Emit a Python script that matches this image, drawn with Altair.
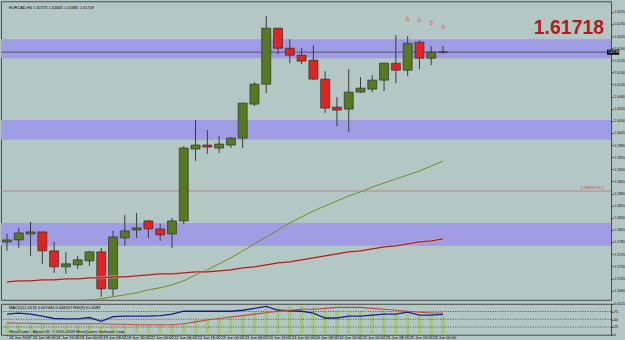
import altair as alt
import pandas as pd

FONT = "Liberation Sans"
BG = "#B3C8C4"
BAND = "#A09CE4"
GREEN = "#557A22"
RED = "#E02424"

# ---------------- data ----------------
idx = list(range(38))
opens = [1.57802, 1.57843, 1.57967, 1.58008, 1.57617, 1.57287, 1.57328, 1.57411, 1.57596, 1.56833,
         1.57885, 1.58049, 1.58235, 1.58070, 1.57967, 1.58235, 1.59719, 1.59801, 1.59739, 1.59801,
         1.59946, 1.60646, 1.61058, 1.62213, 1.61800, 1.61656, 1.61553, 1.61162, 1.60584, 1.60543,
         1.60894, 1.60955, 1.61141, 1.61491, 1.61347, 1.61924, 1.61594, 1.61725]
highs = [1.57967, 1.58091, 1.58214, 1.58008, 1.57802, 1.57596, 1.57514, 1.57617, 1.57678, 1.58029,
         1.58359, 1.58400, 1.58255, 1.58173, 1.58297, 1.59781, 1.60317, 1.60110, 1.59987, 1.59966,
         1.60667, 1.61100, 1.62460, 1.62213, 1.61986, 1.61800, 1.61862, 1.61326, 1.60791, 1.61368,
         1.61203, 1.61244, 1.61491, 1.62068, 1.62048, 1.61965, 1.61842, 1.61845]
lows = [1.57617, 1.57678, 1.57514, 1.57349, 1.57163, 1.57143, 1.57246, 1.57307, 1.56669, 1.56689,
        1.57720, 1.57885, 1.57885, 1.57823, 1.57678, 1.58173, 1.59472, 1.59616, 1.59636, 1.59739,
        1.59739, 1.60605, 1.60873, 1.61677, 1.61491, 1.61471, 1.61141, 1.60461, 1.60193, 1.60069,
        1.60873, 1.60894, 1.60914, 1.61079, 1.61223, 1.61368, 1.61450, 1.61690]
closes = [1.57843, 1.57988, 1.58008, 1.57617, 1.57287, 1.57349, 1.57431, 1.57596, 1.56833, 1.57905,
          1.58029, 1.58091, 1.58070, 1.57946, 1.58235, 1.59739, 1.59801, 1.59760, 1.59822, 1.59946,
          1.60667, 1.61058, 1.62213, 1.61800, 1.61656, 1.61533, 1.61162, 1.60564, 1.60523, 1.60894,
          1.60976, 1.61141, 1.61491, 1.61347, 1.61903, 1.61594, 1.61720, 1.61718]

ma_fast_idx = list(range(5, 38))
ma_fast = [1.56560, 1.56586, 1.56607, 1.56627, 1.56669, 1.56710, 1.56751, 1.56813, 1.56854, 1.56916,
           1.56998, 1.57122, 1.57225, 1.57349, 1.57472, 1.57617, 1.57761, 1.57905, 1.58049, 1.58194,
           1.58317, 1.58441, 1.58544, 1.58647, 1.58750, 1.58833, 1.58936, 1.59018, 1.59101, 1.59183,
           1.59265, 1.59368, 1.59472]
ma_slow = [1.56978, 1.56998, 1.56998, 1.57019, 1.57019, 1.57040, 1.57040, 1.57060, 1.57060, 1.57081,
           1.57081, 1.57101, 1.57122, 1.57143, 1.57143, 1.57163, 1.57184, 1.57184, 1.57204, 1.57225,
           1.57266, 1.57287, 1.57328, 1.57369, 1.57390, 1.57431, 1.57472, 1.57514, 1.57555, 1.57596,
           1.57617, 1.57658, 1.57699, 1.57720, 1.57761, 1.57802, 1.57823, 1.57864]

rsi = [37, 37, 37, 34, 33, 31, 31, 30, 27, 30, 30, 31, 30, 31, 34, 38, 50, 53, 58, 62,
       66, 75, 84, 90, 93, 93, 90, 78, 75, 72, 75, 72, 75, 72, 69, 62, 62, 61]
macd_main = [0.00760, 0.00803, 0.00760, 0.00676, 0.00570, 0.00549, 0.00549, 0.00612, 0.00443, 0.00655,
             0.00676, 0.00676, 0.00676, 0.00697, 0.00760, 0.00887, 0.00887, 0.00887, 0.00887, 0.00887,
             0.00930, 0.01014, 0.01099, 0.00930, 0.00908, 0.00887, 0.00803, 0.00591, 0.00591, 0.00676,
             0.00676, 0.00718, 0.00760, 0.00760, 0.00845, 0.00718, 0.00718, 0.00748]
macd_signal = [0.00380, 0.00359, 0.00359, 0.00337, 0.00337, 0.00337, 0.00337, 0.00337, 0.00337, 0.00316,
               0.00316, 0.00295, 0.00295, 0.00295, 0.00295, 0.00337, 0.00422, 0.00507, 0.00570, 0.00633,
               0.00697, 0.00760, 0.00824, 0.00887, 0.00930, 0.00972, 0.00972, 0.01014, 0.01057, 0.01057,
               0.01057, 0.01014, 0.00972, 0.00930, 0.00887, 0.00845, 0.00811, 0.00811]

band_top = [1.61986, 1.60317, 1.58194]
band_bottom = [1.61594, 1.59910, 1.57720]

bid_price = 1.61718
level_price = 1.58853
level_text = "1.58853  56.2"
header_text = "EURCAD,H4  1.61725 1.61845 1.61690 1.61718"
ind_header = "MACD(12,26,9) 0.007484 0.008107   RSI(9) 61.0089"
footer_text = "MetaTrader - Alpari UK, \u00a9 2001-2009 MetaQuotes Software Corp."
fractal_idx = [34, 35, 36, 37]
fractal_price = [1.62398, 1.62378, 1.62316, 1.62233]

date_labels = ["18 Jun 2009", "18 Jun 08:00", "18 Jun 16:00", "19 Jun 00:00", "19 Jun 08:00",
               "19 Jun 16:00", "22 Jun 00:00", "22 Jun 08:00", "22 Jun 16:00", "23 Jun 00:00",
               "23 Jun 08:00", "23 Jun 16:00", "24 Jun 00:00", "24 Jun 08:00", "24 Jun 16:00",
               "25 Jun 00:00", "25 Jun 08:00", "25 Jun 16:00", "26 Jun 00:00"]
date_pos = list(range(0, 37, 2))
price_ticks = [round(1.5680 + 0.0025 * k, 4) for k in range(24)]
rsi_levels = [25, 50, 75]

# ---------------- frames ----------------
df = pd.DataFrame({"i": idx, "open": opens, "high": highs, "low": lows, "close": closes,
                   "ma_slow": ma_slow, "rsi": rsi, "macd": macd_main, "signal": macd_signal})
df["dir"] = ["up" if c >= o else "down" for o, c in zip(opens, closes)]
fast_df = pd.DataFrame({"i": ma_fast_idx, "ma": ma_fast})
band_df = pd.DataFrame({"top": band_top, "bottom": band_bottom})

XS = alt.Scale(domain=[-1 / 12, 610 / 12], nice=False, zero=False)
YP = alt.Scale(domain=[1.56607, 1.62769], nice=False, zero=False)
YR = alt.Scale(domain=[0, 100], nice=False, zero=False)
YM = alt.Scale(domain=[-0.00141, 0.01213], nice=False, zero=False)
NOX = alt.X("i:Q", scale=XS, axis=None)

PAX = alt.Axis(orient="right", values=price_ticks, format=".4f", title=None,
               labelFontSize=3.6, labelFont=FONT, labelColor="#111111", tickColor="#222222",
               tickSize=2, tickWidth=0.8, labelPadding=0.5, domain=False, grid=False)


def py(field):
    return alt.Y(field, type="quantitative", scale=YP, axis=PAX, title=None)


bands = alt.Chart(band_df).mark_rect(color=BAND).encode(y=py("top"), y2="bottom:Q")

bid_line = alt.Chart(pd.DataFrame({"p": [bid_price]})).mark_rule(color="#55557a", strokeWidth=1).encode(
    y=py("p"))
lvl_line = alt.Chart(pd.DataFrame({"p": [level_price]})).mark_rule(color="#B57C7C", strokeWidth=0.8).encode(
    y=py("p"))
lvl_text = alt.Chart(pd.DataFrame({"i": [50.67], "p": [level_price], "t": [level_text]})).mark_text(
    align="right", baseline="bottom", dy=-0.5, fontSize=4, font=FONT, color="#B05050").encode(
    x=NOX, y=py("p"), text="t:N")

wicks = alt.Chart(df).mark_rule(color="#3a3a3a", strokeWidth=1).encode(
    x=NOX, y=py("low"), y2="high:Q")
bodies = alt.Chart(df).mark_bar(size=9, stroke="#2e2e2e", strokeWidth=0.7).encode(
    x=NOX, y=py("open"), y2="close:Q",
    color=alt.Color("dir:N", scale=alt.Scale(domain=["up", "down"], range=[GREEN, RED]), legend=None))

ma_fast_line = alt.Chart(fast_df).mark_line(color="#6E8B23", strokeWidth=1, clip=True).encode(
    x=NOX, y=py("ma"))
ma_slow_halo = alt.Chart(df).mark_line(color="#E6B4B4", strokeWidth=3, opacity=0.6, clip=True).encode(
    x=NOX, y=py("ma_slow"))
ma_slow_line = alt.Chart(df).mark_line(color="#9E2424", strokeWidth=1.2, clip=True).encode(
    x=NOX, y=py("ma_slow"))

fractals = alt.Chart(pd.DataFrame({"i": fractal_idx, "p": fractal_price})).mark_text(
    text="\u00f0", fontSize=6, font="DejaVu Sans", color="#D06666").encode(x=NOX, y=py("p"))

header = alt.Chart(pd.DataFrame({"i": [0.17], "p": [1.62615], "t": [header_text]})).mark_text(
    align="left", baseline="alphabetic", fontSize=4, font=FONT, color="#000000").encode(
    x=NOX, y=py("p"), text="t:N")
big_price = alt.Chart(pd.DataFrame({"i": [50.67], "p": [1.62089], "t": ["1.61718"]})).mark_text(
    align="right", baseline="alphabetic", fontSize=19.5, fontWeight="bold", font=FONT,
    color="#B01C1C").encode(x=NOX, y=py("p"), text="t:N")
box = alt.Chart(pd.DataFrame({"a": [50.92], "b": [51.95], "p1": [bid_price - 0.00052],
                              "p2": [bid_price + 0.00052]})).mark_rect(color="#000000").encode(
    x=alt.X("a:Q", scale=XS, axis=None), x2="b:Q", y=py("p1"), y2="p2:Q")
box_text = alt.Chart(pd.DataFrame({"i": [51.0], "p": [bid_price], "t": ["1.61718"]})).mark_text(
    align="left", baseline="middle", fontSize=3, font=FONT, color="#FFFFFF").encode(
    x=NOX, y=py("p"), text="t:N")

main = alt.layer(bands, bid_line, lvl_line, lvl_text, wicks, bodies, ma_fast_line, ma_slow_halo,
                 ma_slow_line, fractals, header, big_price, box, box_text).properties(width=611, height=299)

# ---------------- indicator panel ----------------
label_js = "[" + ",".join("'" + s + "'" for s in date_labels) + "][floor(datum.value / 2)]"
DAX = alt.Axis(values=date_pos, labelExpr=label_js, title=None, labelFontSize=4,
               labelFont=FONT, labelColor="#000000", labelAlign="left", labelBaseline="top",
               labelOffset=1.5, tickSize=1, tickColor="#222222", labelPadding=0, domain=False,
               grid=False, labelOverlap=False, labelFlush=False)
XD = alt.X("i:Q", scale=XS, axis=DAX, title=None)
rsi_axis = alt.Axis(orient="right", values=[0, 25, 50, 75, 100],
                    labelExpr="datum.value == 100 ? '0.0121' : datum.value", title=None,
                    labelFontSize=3.6, labelFont=FONT, labelColor="#000000", tickSize=2,
                    tickColor="#222222", labelPadding=0.5, domain=False, grid=False)

rsi_bars = alt.Chart(df).mark_bar(size=3.5, color="#A3C674", opacity=0.9).encode(
    x=XD, y=alt.Y("rsi:Q", scale=YR, axis=rsi_axis))
levels = alt.Chart(pd.DataFrame({"v": rsi_levels})).mark_rule(
    color="#333333", strokeWidth=0.8, strokeDash=[1, 1.5]).encode(y=alt.Y("v:Q", scale=YR, axis=None))
macd_blue = alt.Chart(df).mark_line(color="#1C1C8A", strokeWidth=1.3).encode(
    x=XD, y=alt.Y("macd:Q", scale=YM, axis=None))
macd_red = alt.Chart(df).mark_line(color="#C04848", strokeWidth=1.1).encode(
    x=XD, y=alt.Y("signal:Q", scale=YM, axis=None))
ind_head = alt.Chart(pd.DataFrame({"i": [0.17], "v": [83], "t": [ind_header]})).mark_text(
    align="left", baseline="alphabetic", fontSize=4, font=FONT, color="#000000").encode(
    x=XD, y=alt.Y("v:Q", scale=YR, axis=None), text="t:N")
foot = alt.Chart(pd.DataFrame({"i": [0.17], "v": [4], "t": [footer_text]})).mark_text(
    align="left", baseline="alphabetic", fontSize=4, font=FONT, color="#000000").encode(
    x=XD, y=alt.Y("v:Q", scale=YR, axis=None), text="t:N")

indicator = alt.layer(rsi_bars, levels, macd_blue, macd_red, ind_head, foot).resolve_scale(
    y="independent").properties(width=611, height=31)

chart = alt.vconcat(main, indicator, spacing=0).properties(
    background=BG, padding={"left": 0, "top": 0, "right": 0, "bottom": 0}
).configure_view(stroke="#4a4a4a", strokeWidth=1)

chart.save("out.html", embed_options={"renderer": "svg", "actions": False})
